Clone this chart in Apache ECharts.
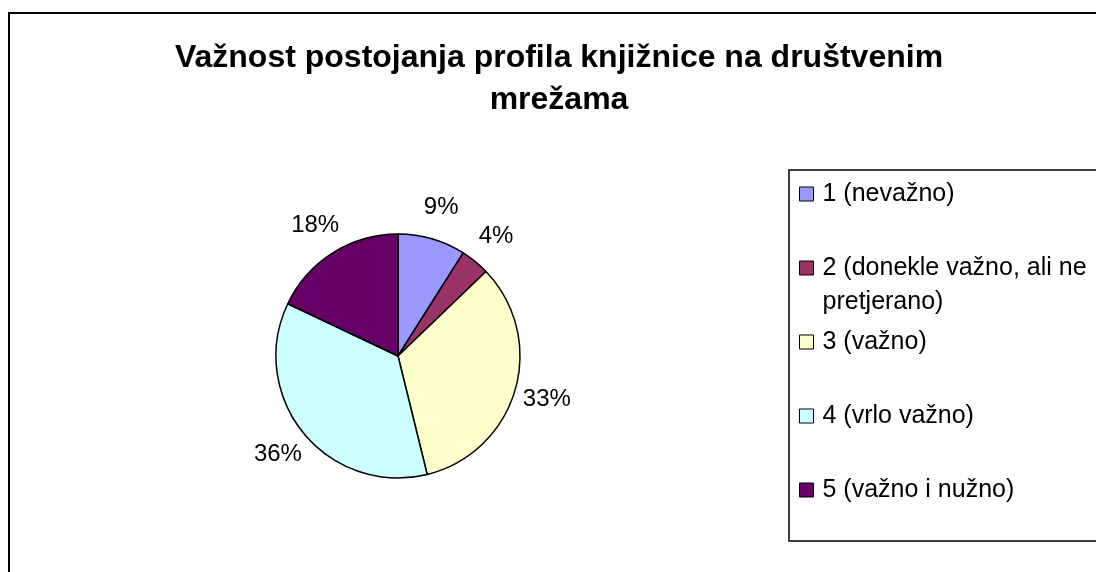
<!DOCTYPE html>
<html>
<head>
<meta charset="utf-8">
<script src="https://cdn.jsdelivr.net/npm/echarts@6/dist/echarts.min.js"></script>
<style>
  html, body { margin: 0; padding: 0; background: #fff; }
  #chart { width: 1096px; height: 572px; }
</style>
</head>
<body>
<div id="chart"></div>
<script>
// answers per category (labels show share of total)
var categories = ['1 (nevažno)', '2 (donekle važno, ali ne pretjerano)', '3 (važno)', '4 (vrlo važno)', '5 (važno i nužno)'];
var counts = [7, 3, 26, 28, 14];
var sliceColors = ['#9999FF', '#993366', '#FFFFCC', '#CCFFFF', '#660066'];
var chartTitle = 'Važnost postojanja profila knjižnice na društvenim\nmrežama';

var FONT = "'Liberation Sans', Arial, sans-serif";
var myChart = echarts.init(document.getElementById('chart'));

var pieData = [];
var labelData = [];
for (var i = 0; i < categories.length; i++) {
    pieData.push({ name: categories[i], value: counts[i], itemStyle: { color: sliceColors[i] } });
    labelData.push({ name: categories[i], value: counts[i] });
}

// legend rows: equal spacing between markers, 2nd entry wraps onto a second line
var legendRows = [46, 34, 46, 102, 46];
var legendData = [];
for (var j = 0; j < categories.length; j++) {
    legendData.push({ name: categories[j], textStyle: { lineHeight: legendRows[j], padding: [0, 0, 0, 4] } });
}

var option = {
    backgroundColor: '#fff',
    animation: false,
    textStyle: { fontFamily: FONT },
    title: {
        text: chartTitle,
        left: 559,
        top: 37,
        padding: 0,
        textAlign: 'center',
        textStyle: { fontFamily: FONT, fontSize: 32, fontWeight: 'bold', color: '#000', lineHeight: 42 }
    },
    graphic: [{
        type: 'rect',
        shape: { x: 9, y: 13, width: 1200, height: 700 },
        style: { fill: null, stroke: '#000', lineWidth: 2 },
        silent: true
    }],
    legend: {
        orient: 'vertical',
        left: 789,
        top: 170,
        padding: [1, 300, 28, 10],
        itemGap: 0,
        itemWidth: 14,
        itemHeight: 14,
        icon: 'rect',
        borderColor: '#000',
        borderWidth: 1.5,
        selectedMode: false,
        itemStyle: { borderColor: '#000', borderWidth: 1 },
        textStyle: { fontFamily: FONT, fontSize: 25, color: '#000', width: 285, overflow: 'break' },
        formatter: function (name) {
            // empty first line keeps the marker level with the first text line
            return name == categories[1] ? ' \n' + name : name;
        },
        data: legendData
    },
    series: [{
        type: 'pie',
        center: [398, 356],
        radius: 122,
        startAngle: 90,
        clockwise: true,
        silent: true,
        itemStyle: { borderColor: '#000', borderWidth: 1.5 },
        label: { show: false },
        labelLine: { show: false },
        data: pieData
    }, {
        // transparent ring only for placing the percent labels around the pie
        type: 'pie',
        center: [398, 356],
        radius: [130, 174],
        startAngle: 90,
        clockwise: true,
        silent: true,
        percentPrecision: 0,
        itemStyle: { color: 'rgba(0,0,0,0)', borderWidth: 0 },
        label: {
            show: true,
            position: 'inside',
            formatter: '{d}%',
            fontFamily: FONT,
            fontSize: 24,
            color: '#000'
        },
        labelLine: { show: false },
        data: labelData
    }]
};

myChart.setOption(option);
</script>
</body>
</html>
